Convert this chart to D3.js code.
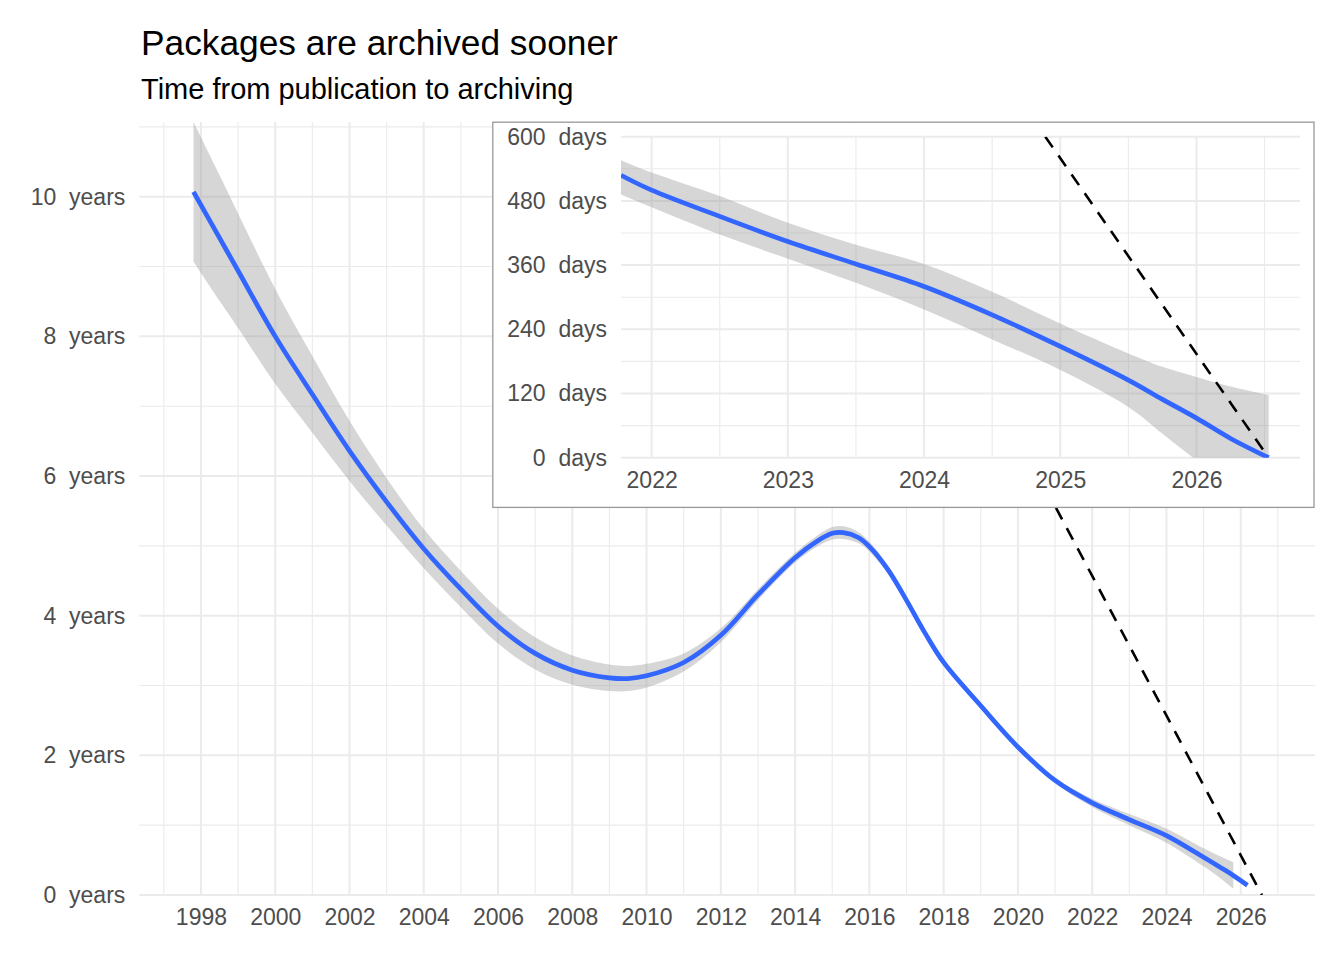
<!DOCTYPE html>
<html>
<head>
<meta charset="utf-8">
<script src="https://cdnjs.cloudflare.com/ajax/libs/d3/7.8.5/d3.min.js"></script>
<style>
body { margin: 0; background: #fff; }
text { font-family: "Liberation Sans", Arial, Helvetica, sans-serif; }
</style>
</head>
<body>
<div id="chart-area"></div>
<script>
// --- Data ---

// main panel: smoothed time to archiving, in years
var mainYears = [1997.8, 1998.5, 1999, 2000, 2001, 2002, 2003, 2004, 2005, 2006, 2007, 2008,
	2009, 2009.5, 2010, 2011, 2012, 2013, 2014, 2014.6, 2015, 2015.3, 2015.7, 2016, 2016.5,
	2017, 2017.5, 2018, 2019, 2020, 2021, 2022, 2023, 2024, 2025, 2025.5, 2025.8, 2026.18];
var mainFit = [10.07, 9.41, 8.94, 8.00, 7.17, 6.36, 5.63, 4.96, 4.38, 3.85, 3.46, 3.22,
	3.11, 3.10, 3.14, 3.33, 3.72, 4.30, 4.83, 5.07, 5.18, 5.19, 5.12, 4.99, 4.66,
	4.22, 3.75, 3.33, 2.71, 2.12, 1.64, 1.32, 1.08, 0.85, 0.54, 0.38, 0.28, 0.14];
var mainLower = [9.07, 8.51, 8.12, 7.32, 6.62, 5.93, 5.29, 4.68, 4.12, 3.60, 3.23, 3.01,
	2.92, 2.92, 2.97, 3.20, 3.62, 4.22, 4.76, 4.99, 5.09, 5.10, 5.04, 4.92, 4.60,
	4.18, 3.71, 3.30, 2.68, 2.09, 1.60, 1.26, 1.00, 0.75, 0.41, 0.22, 0.09, null];
var mainUpper = [11.07, 10.31, 9.76, 8.68, 7.72, 6.79, 5.97, 5.24, 4.64, 4.10, 3.69, 3.43,
	3.30, 3.28, 3.31, 3.46, 3.82, 4.38, 4.90, 5.15, 5.27, 5.28, 5.20, 5.06, 4.72,
	4.26, 3.79, 3.36, 2.74, 2.15, 1.68, 1.38, 1.16, 0.95, 0.67, 0.54, 0.47, null];

// main panel: dashed limit line (years)
var mainDashYears = [2015.5, 2026.57];
var mainDashValues = [11.07, 0];

// inset: last years, in days
var insetYears = [2021.775, 2022, 2022.5, 2023, 2023.5, 2024, 2024.5, 2025, 2025.5, 2025.75, 2026, 2026.25, 2026.53];
var insetFit = [528, 500, 451, 404, 362, 320, 267, 208, 145, 109, 74, 36, 0];
var insetLower = [492, 468, 417, 372, 327, 277, 221, 164, 95, 45, -5, -55, -110];
var insetUpper = [556, 533, 489, 439, 398, 362, 310, 251, 195, 170, 151, 133, 117];

var insetDashYears = [2024.89, 2026.53];
var insetDashDays = [600, 0];

// ticks
var mainMajorX = [1998, 2000, 2002, 2004, 2006, 2008, 2010, 2012, 2014, 2016, 2018, 2020, 2022, 2024, 2026];
var mainMinorX = [1997, 1999, 2001, 2003, 2005, 2007, 2009, 2011, 2013, 2015, 2017, 2019, 2021, 2023, 2025, 2027];
var mainMajorY = [0, 2, 4, 6, 8, 10];
var mainMinorY = [1, 3, 5, 7, 9, 11];
var insetMajorX = [2022, 2023, 2024, 2025, 2026];
var insetMinorX = [2022.5, 2023.5, 2024.5, 2025.5, 2026.5];
var insetMajorY = [0, 120, 240, 360, 480, 600];
var insetMinorY = [60, 180, 300, 420, 540];

// --- Setup the canvas ---
var canvasWidth = 1344;
var canvasHeight = 960;
var canvas = d3.select("#chart-area").append("svg")
	.attr("width", canvasWidth)
	.attr("height", canvasHeight);

var gridColor = "#EBEBEB";
var tickColor = "#4D4D4D";
var tickFontSize = 23;

// --- Titles ---
canvas.append("text")
	.text("Packages are archived sooner")
	.attr("x", 141)
	.attr("y", 55)
	.attr("font-size", "35.3px")
	.attr("fill", "#000");

canvas.append("text")
	.text("Time from publication to archiving")
	.attr("x", 141)
	.attr("y", 99)
	.attr("font-size", "29px")
	.attr("fill", "#000");

// --- Panel helper: grid, ribbon, line, dashed line, axes ---
function drawPanel(g, opts) {
	var xScale = opts.x, yScale = opts.y;
	var x0 = xScale.range()[0], x1 = xScale.range()[1];
	var y0 = yScale.range()[0], y1 = yScale.range()[1];

	var clipId = opts.name + "-clip";
	g.append("clipPath").attr("id", clipId)
		.append("rect")
		.attr("x", x0).attr("y", y1)
		.attr("width", x1 - x0).attr("height", y0 - y1);

	// minor grid
	g.selectAll(".minor-x").data(opts.minorX).enter().append("line")
		.attr("x1", xScale).attr("x2", xScale)
		.attr("y1", y0).attr("y2", y1)
		.attr("stroke", gridColor).attr("stroke-width", 1.1);
	g.selectAll(".minor-y").data(opts.minorY).enter().append("line")
		.attr("x1", x0).attr("x2", x1)
		.attr("y1", yScale).attr("y2", yScale)
		.attr("stroke", gridColor).attr("stroke-width", 1.1);

	// major grid
	g.selectAll(".major-x").data(opts.majorX).enter().append("line")
		.attr("x1", xScale).attr("x2", xScale)
		.attr("y1", y0).attr("y2", y1)
		.attr("stroke", gridColor).attr("stroke-width", 2);
	g.selectAll(".major-y").data(opts.majorY).enter().append("line")
		.attr("x1", x0).attr("x2", x1)
		.attr("y1", yScale).attr("y2", yScale)
		.attr("stroke", gridColor).attr("stroke-width", 2);

	var plot = g.append("g").attr("clip-path", "url(#" + clipId + ")");

	var rows = opts.years.map((yr, i) => {
		return { year: yr, fit: opts.fit[i], lower: opts.lower[i], upper: opts.upper[i] };
	});

	var area = d3.area()
		.x((d) => { return xScale(d.year); })
		.y0((d) => { return yScale(d.lower); })
		.y1((d) => { return yScale(d.upper); })
		.curve(d3.curveCatmullRom.alpha(0.5));

	var line = d3.line()
		.x((d) => { return xScale(d.year); })
		.y((d) => { return yScale(d.fit); })
		.curve(d3.curveCatmullRom.alpha(0.5));

	plot.append("path")
		.datum(rows.filter((d) => { return d.lower != null; }))
		.attr("d", area)
		.attr("fill", "#999999")
		.attr("fill-opacity", 0.4);

	plot.append("path")
		.datum(rows)
		.attr("d", line)
		.attr("fill", "none")
		.attr("stroke", "#3366FF")
		.attr("stroke-width", 4.7);

	var dashRows = opts.dashYears.map((yr, i) => { return { year: yr, value: opts.dashValues[i] }; });
	plot.append("path")
		.datum(dashRows)
		.attr("d", d3.line()
			.x((d) => { return xScale(d.year); })
			.y((d) => { return yScale(d.value); }))
		.attr("fill", "none")
		.attr("stroke", "#000")
		.attr("stroke-width", 2.6)
		.attr("stroke-dasharray", "13,10");

	// axes (labels only)
	var xAxis = d3.axisBottom(xScale)
		.tickValues(opts.majorX)
		.tickSize(0)
		.tickPadding(14)
		.tickFormat(d3.format("d"));
	var xAxisGroup = g.append("g")
		.attr("transform", "translate(0," + y0 + ")")
		.call(xAxis);

	var yAxis = d3.axisLeft(yScale)
		.tickValues(opts.majorY)
		.tickSize(0)
		.tickPadding(14)
		.tickFormat((d) => { return d + "  " + opts.unit; });
	var yAxisGroup = g.append("g")
		.attr("transform", "translate(" + x0 + ",0)")
		.call(yAxis);

	[xAxisGroup, yAxisGroup].forEach((ax) => {
		ax.select(".domain").remove();
		ax.selectAll("text")
			.attr("fill", tickColor)
			.attr("font-size", tickFontSize + "px")
			.attr("font-family", "'Liberation Sans', Arial, sans-serif")
			.attr("xml:space", "preserve")
			.style("white-space", "pre");
	});
}

// --- Main panel ---
var mainX = d3.scaleLinear().domain([1996.34, 2028.0]).range([139.3, 1315]);
var mainY = d3.scaleLinear().domain([0, 11.07]).range([895, 122]);

drawPanel(canvas.append("g"), {
	name: "main",
	x: mainX, y: mainY,
	years: mainYears, fit: mainFit, lower: mainLower, upper: mainUpper,
	dashYears: mainDashYears, dashValues: mainDashValues,
	majorX: mainMajorX, minorX: mainMinorX, majorY: mainMajorY, minorY: mainMinorY,
	unit: "years"
});

// --- Inset panel ---
var inset = canvas.append("g");
inset.append("rect")
	.attr("x", 492.8)
	.attr("y", 122.2)
	.attr("width", 1314 - 492.8)
	.attr("height", 507.4 - 122.2)
	.attr("fill", "#fff")
	.attr("stroke", "#999999")
	.attr("stroke-width", 1.3);

var insetX = d3.scaleLinear().domain([2021.775, 2026.76]).range([621, 1300]);
var insetY = d3.scaleLinear().domain([0, 600]).range([457.7, 136.7]);

drawPanel(inset, {
	name: "inset",
	x: insetX, y: insetY,
	years: insetYears, fit: insetFit, lower: insetLower, upper: insetUpper,
	dashYears: insetDashYears, dashValues: insetDashDays,
	majorX: insetMajorX, minorX: insetMinorX, majorY: insetMajorY, minorY: insetMinorY,
	unit: "days"
});
</script>
</body>
</html>
